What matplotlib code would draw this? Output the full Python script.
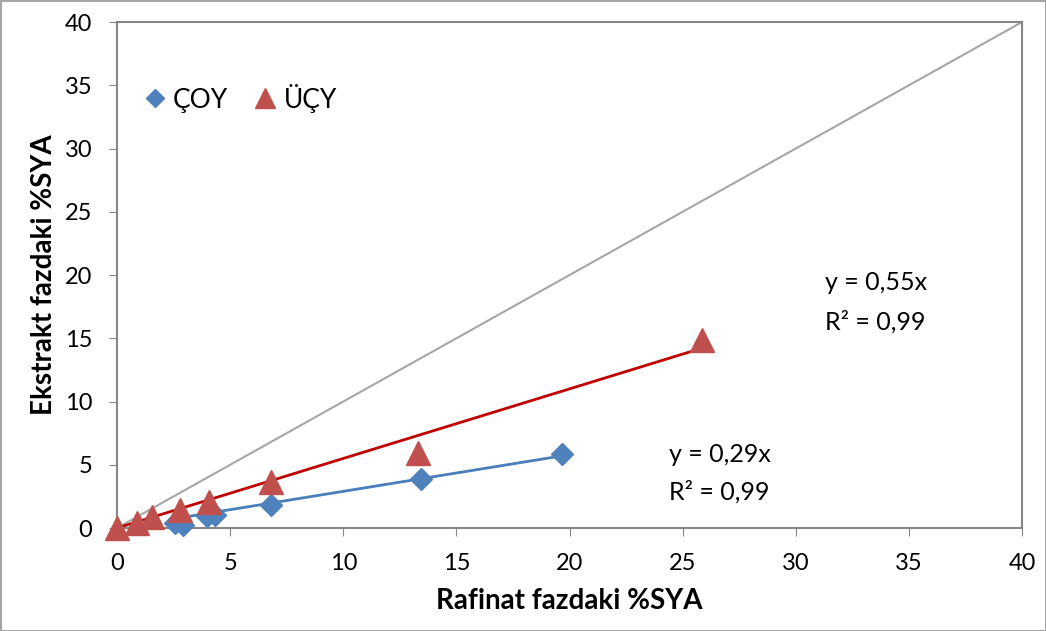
import numpy as np
import matplotlib.pyplot as plt

plt.rcParams['font.family'] = ['Lato', 'DejaVu Sans']

# Rafinat / ekstrakt faz %SYA değerleri
coy_x = [2.57, 2.93, 3.97, 4.33, 6.8, 13.43, 19.65]
coy_y = [0.42, 0.24, 0.95, 1.03, 1.82, 3.85, 5.85]
ucy_x = [0.0, 0.88, 1.55, 2.8, 4.07, 6.8, 13.3, 25.84]
ucy_y = [0.0, 0.4, 0.85, 1.4, 2.05, 3.65, 5.95, 14.86]

coy_slope = 0.29
ucy_slope = 0.55
r2_coy = 0.99
r2_ucy = 0.99

ticks = [0, 5, 10, 15, 20, 25, 30, 35, 40]

fig = plt.figure(figsize=(10.46, 6.31), dpi=100)
fig.patch.set_edgecolor('#A6A6A6')
fig.patch.set_linewidth(2)
ax = fig.add_axes([0.1119, 0.1632, 0.8652, 0.8019])

# y = x referans çizgisi
ax.plot([0, 40], [0, 40], color='#A6A6A6', lw=1.5, zorder=1)

# eğilim çizgileri (orijinden geçen)
xc = np.array([min(coy_x), max(coy_x)])
ax.plot(xc, coy_slope * xc, color='#4A7EBB', lw=2, zorder=2)
xu = np.array([min(ucy_x), max(ucy_x)])
ax.plot(xu, ucy_slope * xu, color='#C00000', lw=2, zorder=2)

ax.plot(coy_x, coy_y, 'D', color='#4F81BD', markersize=11, ls='none',
        label='ÇOY', zorder=3, clip_on=False)
ax.plot(ucy_x, ucy_y, '^', color='#C0504D', markersize=17, ls='none',
        label='ÜÇY', zorder=3, clip_on=False)

ax.set_xlim(0, 40)
ax.set_ylim(0, 40)
ax.set_xticks(ticks)
ax.set_yticks(ticks)
ax.tick_params(labelsize=17, length=6, color='#868686')
ax.tick_params(axis='x', pad=12)
ax.tick_params(axis='y', pad=12)
for s in ax.spines.values():
    s.set_color('#868686')
    s.set_linewidth(1.5)

ax.set_xlabel('Rafinat fazdaki %SYA', fontsize=20, fontweight='bold', labelpad=10)
ax.set_ylabel('Ekstrakt fazdaki %SYA', fontsize=20, fontweight='bold', labelpad=5)

def fmt(v):
    return f'{v:.2f}'.replace('.', ',')

ax.text(31.3, 19.4, f'y = {fmt(ucy_slope)}x', fontsize=18, ha='left', va='center')
ax.text(31.3, 16.3, f'R² = {fmt(r2_ucy)}', fontsize=18, ha='left', va='center')
ax.text(24.4, 5.85, f'y = {fmt(coy_slope)}x', fontsize=18, ha='left', va='center')
ax.text(24.4, 2.85, f'R² = {fmt(r2_coy)}', fontsize=18, ha='left', va='center')

ax.legend(loc='upper left', bbox_to_anchor=(-0.008, 0.915), ncol=2, frameon=False,
          fontsize=19, handletextpad=-0.3, columnspacing=0.4, markerscale=0.85,
          borderpad=0.2)

fig.savefig('out.png', dpi=100)
